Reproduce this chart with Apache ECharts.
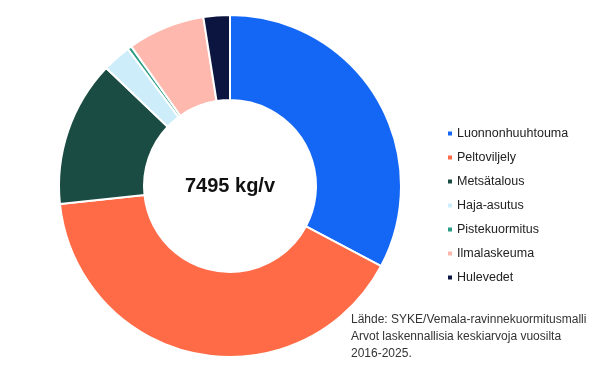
<!DOCTYPE html>
<html><head><meta charset="utf-8">
<script src="https://cdn.jsdelivr.net/npm/echarts@6/dist/echarts.min.js"></script>
<style>html,body{margin:0;padding:0;background:#fff}#c{width:600px;height:373px}</style>
</head><body><div id="c"></div>
<script>
const categories = ["Luonnonhuuhtouma","Peltoviljely","Metsätalous","Haja-asutus","Pistekuormitus","Ilmalaskeuma","Hulevedet"];
const values = [2455, 3040, 1034, 202, 30, 547, 187];
const colors = ["#1466f5","#ff6b47","#1b4c44","#cdedfb","#2a9d86","#ffb8ae","#0b1540"];
const totalLabel = "7495 kg/v";
const sourceLines = ["Lähde: SYKE/Vemala-ravinnekuormitusmalli","Arvot laskennallisia keskiarvoja vuosilta","2016-2025."];

const FF = '"Liberation Sans", Arial, sans-serif';
const chart = echarts.init(document.getElementById('c'), null, {renderer:'canvas'});
chart.setOption({
  animation:false,
  color: colors,
  textStyle:{fontFamily:FF},
  legend:{
    orient:'vertical', left:441, top:122,
    itemWidth:6, itemHeight:6, itemGap:11, icon:'rect',
    textStyle:{fontSize:12.5, color:'#222', fontFamily:FF, padding:[0,0,0,-1]},
    data: categories
  },
  graphic:[
    {type:'text', style:{text:totalLabel, x:230, y:186, align:'center', verticalAlign:'middle', font:'bold 20px ' + FF, fill:'#111'}},
    {type:'text', style:{text:sourceLines.join('\n'), x:351, y:311, font:'12px ' + FF, lineHeight:17, fill:'#333'}}
  ],
  series:[{
    type:'pie', center:[230,186], radius:[86,171], startAngle:90, clockwise:true,
    label:{show:false}, labelLine:{show:false},
    itemStyle:{borderColor:'#fff', borderWidth:2},
    emphasis:{disabled:true},
    data: categories.map((n,i)=>({name:n, value:values[i]}))
  }]
});
</script></body></html>
